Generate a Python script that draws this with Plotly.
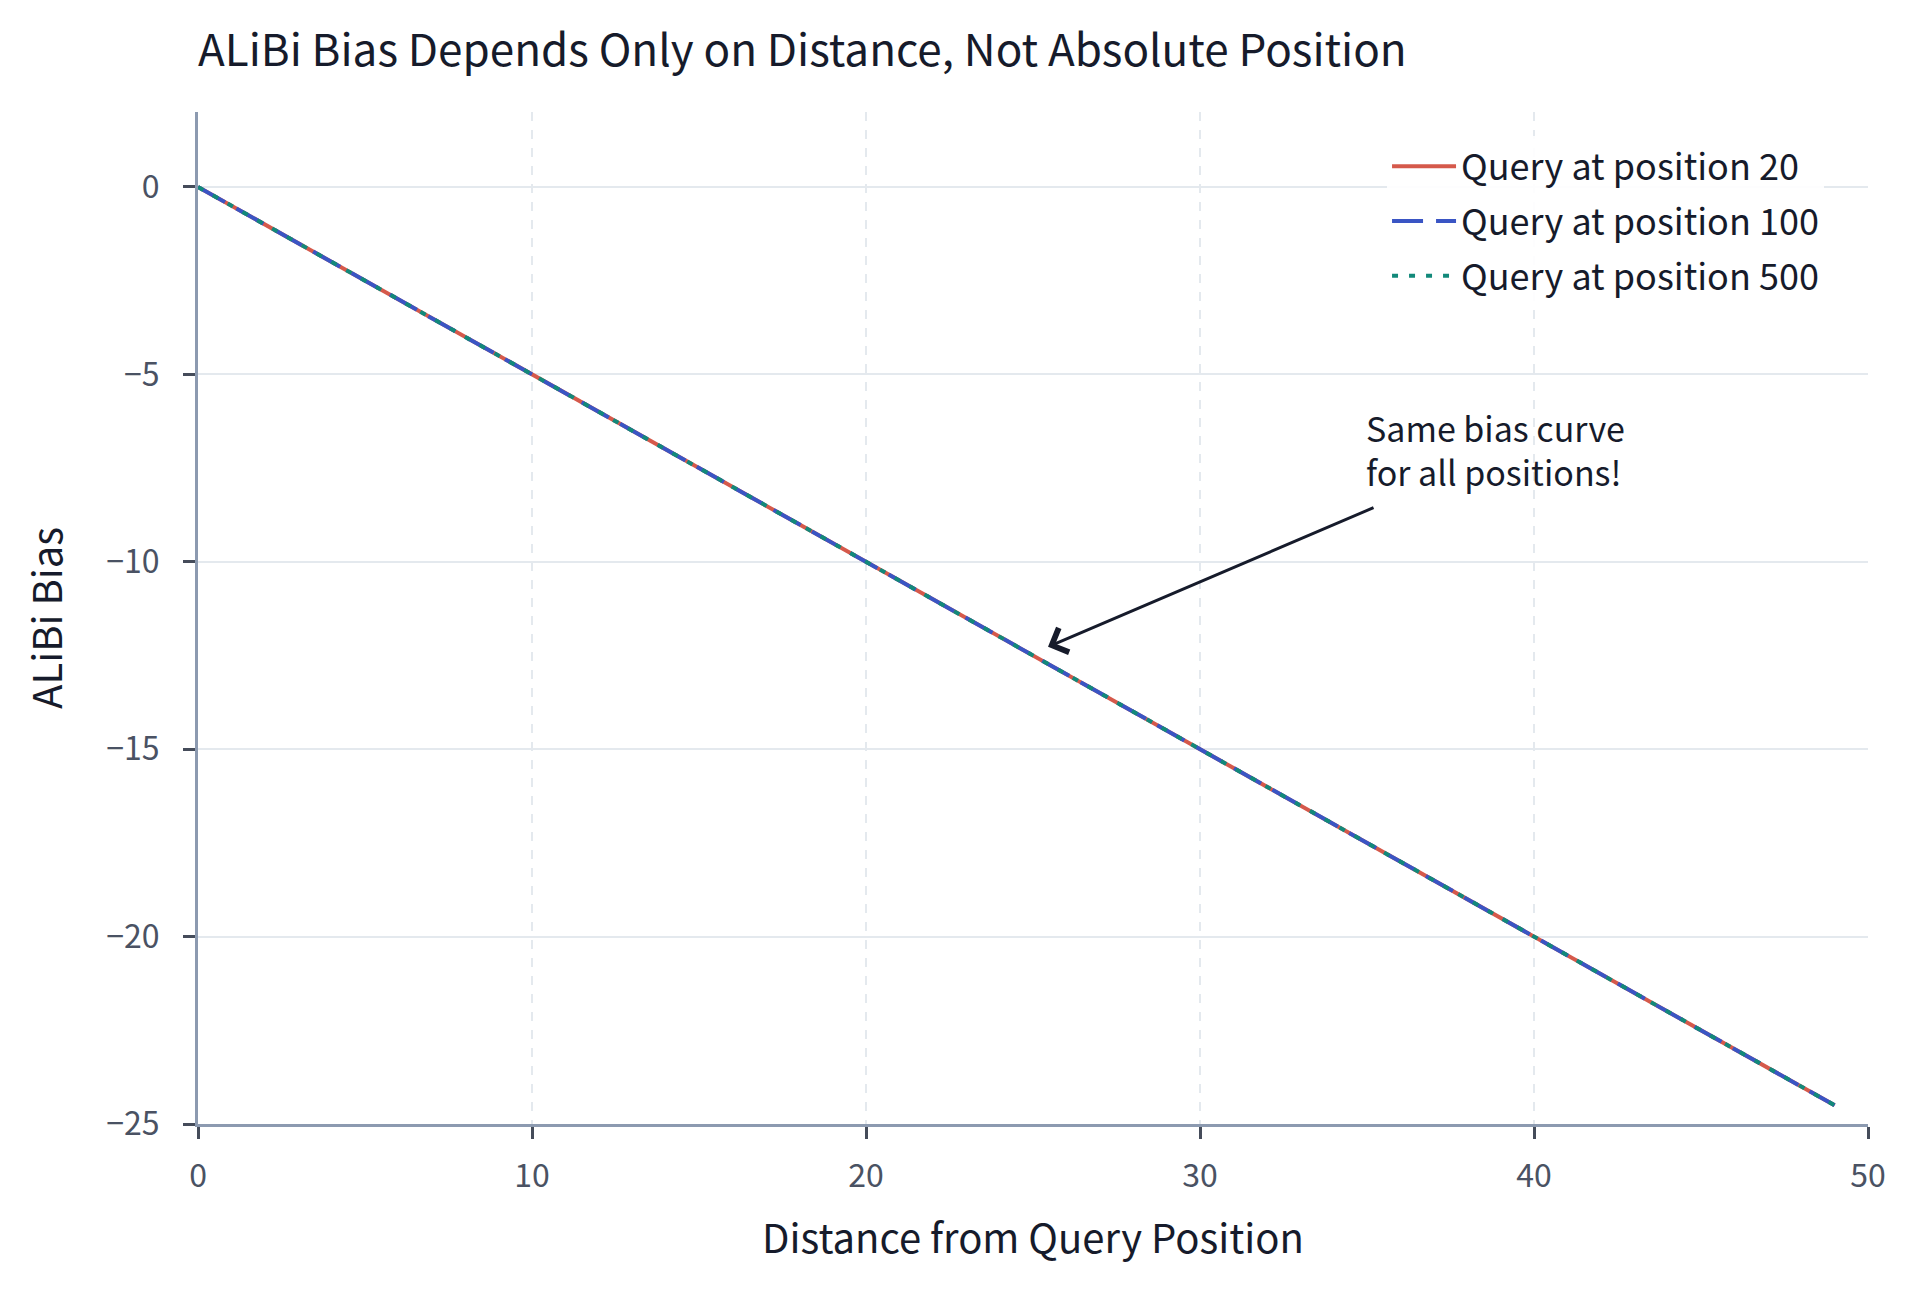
import plotly.graph_objects as go

# Data
distance = [0, 1, 2, 3, 4, 5, 6, 7, 8, 9,
            10, 11, 12, 13, 14, 15, 16, 17, 18, 19,
            20, 21, 22, 23, 24, 25, 26, 27, 28, 29,
            30, 31, 32, 33, 34, 35, 36, 37, 38, 39,
            40, 41, 42, 43, 44, 45, 46, 47, 48, 49]
bias_q20 = [0.0, -0.5, -1.0, -1.5, -2.0, -2.5, -3.0, -3.5, -4.0, -4.5,
            -5.0, -5.5, -6.0, -6.5, -7.0, -7.5, -8.0, -8.5, -9.0, -9.5,
            -10.0, -10.5, -11.0, -11.5, -12.0, -12.5, -13.0, -13.5, -14.0, -14.5,
            -15.0, -15.5, -16.0, -16.5, -17.0, -17.5, -18.0, -18.5, -19.0, -19.5,
            -20.0, -20.5, -21.0, -21.5, -22.0, -22.5, -23.0, -23.5, -24.0, -24.5]
bias_q100 = list(bias_q20)
bias_q500 = list(bias_q20)
series_names = ["Query at position 20", "Query at position 100", "Query at position 500"]
x_ticks = [0, 10, 20, 30, 40, 50]
y_ticks = [-25, -20, -15, -10, -5, 0]

FONT = "Noto Sans CJK KR"
TEXT = "#161b2b"
TICK_TEXT = "#4a5263"
AXIS = "#8c9ab0"
GRID = "#e4e9ee"

fig = go.Figure()

styles = [
    dict(color="#d5594b", width=4, dash="solid"),
    dict(color="#3a55c4", width=4, dash="31px,13px"),
    dict(color="#12897a", width=4, dash="6px,11px"),
]
for i, (name, ys) in enumerate(zip(series_names, [bias_q20, bias_q100, bias_q500])):
    fig.add_trace(go.Scatter(x=distance, y=ys, mode="lines", name=name,
                             line=styles[i], legendgroup=name))

# arrow + note
fig.add_annotation(x=25.45, y=-12.27, ax=35.24, ay=-8.54, xref="x", yref="y",
                   axref="x", ayref="y", text="", showarrow=True,
                   arrowhead=4, arrowsize=1.7, arrowwidth=3, arrowcolor=TEXT)
fig.add_annotation(x=34.9, y=-7.0, xref="x", yref="y", xanchor="left", yanchor="middle",
                   text="Same bias curve<br>for all positions!", showarrow=False,
                   align="left", font=dict(family=FONT, size=34, color=TEXT))

fig.update_xaxes(range=[0, 50], tickvals=x_ticks, showline=True, linecolor=AXIS, linewidth=3,
                 ticks="outside", ticklen=12, tickwidth=3, tickcolor="#454c5a",
                 ticklabelstandoff=10,
                 tickfont=dict(family=FONT, size=32, color=TICK_TEXT),
                 showgrid=True, gridcolor=GRID, gridwidth=2, griddash="dash", zeroline=False,
                 title=dict(text="Distance from Query Position", standoff=30,
                            font=dict(family=FONT, size=40, color=TEXT)))
fig.update_yaxes(range=[-25, 2], tickvals=y_ticks, showline=True, linecolor=AXIS, linewidth=3,
                 ticks="outside", ticklen=12, tickwidth=3, tickcolor="#454c5a",
                 ticklabelstandoff=17,
                 tickfont=dict(family=FONT, size=32, color=TICK_TEXT),
                 showgrid=True, gridcolor=GRID, gridwidth=2, zeroline=False,
                 title=dict(text="ALiBi Bias", standoff=32,
                            font=dict(family=FONT, size=40, color=TEXT)))

fig.update_layout(
    width=1920, height=1292,
    margin=dict(l=190, r=60, t=104, b=176),
    paper_bgcolor="white", plot_bgcolor="white",
    title=dict(text="ALiBi Bias Depends Only on Distance, Not Absolute Position",
               x=190 / 1920, xanchor="left", y=1 - 43 / 1292, yanchor="middle",
               font=dict(family=FONT, size=44, color=TEXT)),
    legend=dict(x=0.712, y=0.976, xanchor="left", yanchor="top",
                bgcolor="rgba(255,255,255,0.9)", borderwidth=0,
                font=dict(family=FONT, size=36, color=TEXT),
                tracegroupgap=5, itemwidth=64),
    showlegend=True,
)

fig.write_html("out.html")
